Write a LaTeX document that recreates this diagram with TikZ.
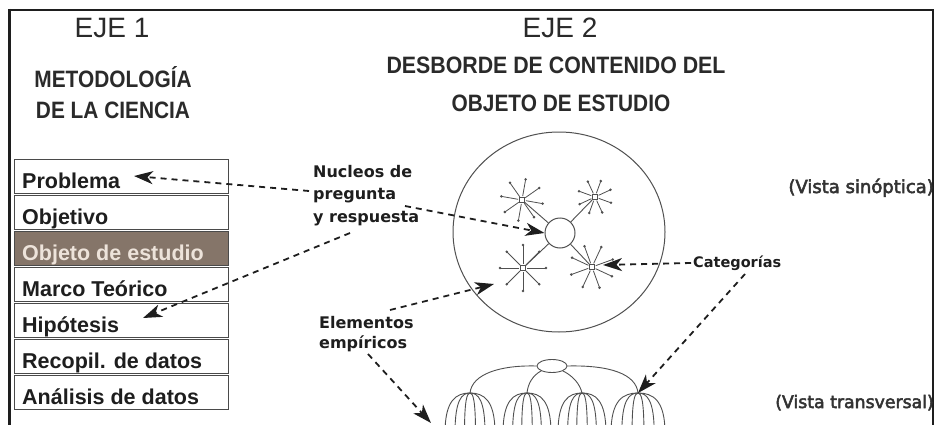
\documentclass[tikz,border=0pt]{standalone}
\usepackage{fontspec}
\setmainfont{DejaVu Sans}
\newfontfamily\headfont{Liberation Sans}
\newfontfamily\vistafont[FakeBold=3]{DejaVu Sans}
\usetikzlibrary{arrows.meta,shapes.geometric,calc}
\definecolor{ink}{HTML}{1E1E1E}
\definecolor{headgray}{HTML}{2A2A2A}
\definecolor{rowline}{HTML}{4A4A4A}
\definecolor{objfill}{HTML}{857569}
\definecolor{objtext}{HTML}{EDE3DA}
\definecolor{graytext}{HTML}{333333}
\definecolor{drawgray}{HTML}{505050}

\newcommand{\hubstar}[5]{% name, x, y, ray length, start angle
  \node[hub] (#1) at (#2,#3) {};
  \foreach \a in {0,45,...,315} {
    \draw[ray] (#1.center) ++(\a+#5:4) -- ++(\a+#5:#4-4) coordinate (rayend);
    \fill[drawgray] (rayend) circle (1.4pt);
  }
}
\newcommand{\dome}[2]{% name of top coordinate, spread
  \foreach \dx in {-1,-0.6,-0.22,0.22,0.6,1} {
    \draw[tree] (#1) .. controls ($(#1)+(\dx*#2*0.55,0)$) and ($(#1)+(\dx*#2,7)$) .. ($(#1)+(\dx*#2,40)$);
  }
}

\begin{document}
\begin{tikzpicture}[x=1pt,y=-1pt,
  rowbox/.style={draw=rowline, line width=1.3pt, minimum width=214pt, minimum height=34pt, anchor=north west, inner sep=0pt},
  rowtext/.style={anchor=base west, inner sep=0pt, font=\headfont\bfseries\fontsize{21.5}{24}\selectfont, text=ink},
  headb/.style={anchor=base, inner sep=0pt, font=\headfont\bfseries\fontsize{23.7}{26}\selectfont, text=headgray},
  headl/.style={anchor=base, inner sep=0pt, font=\headfont\fontsize{28}{30}\selectfont, text=headgray},
  lbl/.style={anchor=base west, inner sep=0pt, align=left, text=ink},
  vista/.style={anchor=base east, inner sep=0pt, text=graytext},
  dasharrow/.style={draw=ink, line width=1.8pt, dash pattern=on 6pt off 5pt, -{Stealth[length=19pt,width=13pt,inset=5.5pt]}},
  hub/.style={draw=drawgray, line width=0.8pt, minimum size=5pt, inner sep=0pt},
  ray/.style={draw=drawgray, line width=0.8pt},
  link/.style={draw=drawgray, line width=0.9pt},
  tree/.style={draw=drawgray, line width=0.9pt}
]
\useasboundingbox (0,0) rectangle (941,425);
\fill[white] (0,0) rectangle (941,425);
\begin{scope}
\clip (0,0) rectangle (941,425);

% frame
\draw[ink, line width=2pt] (9,10) -- (934,10);
\draw[ink, line width=3pt] (9,9) -- (9,426);
\draw[ink, line width=1.3pt] (933,10) -- (933,426);

% headings
\node[headl] (eje1) at (112,38) {EJE 1};
\node[headl] (eje2) at (560,38) {EJE 2};
\node[headb] (met) at (113,88) {\scalebox{0.88}[1]{METODOLOGÍA}};
\node[headb] (dlc) at (113,118) {\scalebox{0.88}[1]{DE LA CIENCIA}};
\node[headb] (des) at (556,74) {\scalebox{0.9}[1]{DESBORDE DE CONTENIDO DEL}};
\node[headb] (obe) at (561,112) {\scalebox{0.88}[1]{OBJETO DE ESTUDIO}};

% table
\node[rowbox] (r1) at (14,159) {};
\node[rowbox] (r2) at (14,195) {};
\node[rowbox, fill=objfill] (r3) at (14,231) {};
\node[rowbox] (r4) at (14,267) {};
\node[rowbox] (r5) at (14,303) {};
\node[rowbox] (r6) at (14,339) {};
\node[rowbox] (r7) at (14,375) {};
\node[rowtext] (t1) at (22,188) {Problema};
\node[rowtext] (t2) at (22,224) {Objetivo};
\node[rowtext, text=objtext] (t3) at (22,260) {Objeto de estudio};
\node[rowtext] (t4) at (22,296) {Marco Teórico};
\node[rowtext] (t5) at (22,332) {Hipótesis};
\node[rowtext] (t6) at (22,368) {Recopil. de datos};
\node[rowtext] (t7) at (22,404) {Análisis de datos};

% synoptic view
\node[draw=drawgray, line width=1pt, ellipse, minimum width=212pt, minimum height=200pt, inner sep=0pt] (big) at (559,232) {};
\node[draw=drawgray, line width=1pt, circle, minimum size=30pt, inner sep=0pt] (cc) at (560,233) {};
\hubstar{ul}{522}{200}{21}{10}
\hubstar{ur}{595}{197}{17}{20}
\hubstar{ll}{523}{268}{23}{0}
\hubstar{lr}{592}{267}{22}{25}
\draw[link] (cc) -- (ul);
\draw[link] (cc) -- (ur);
\draw[link] (cc) -- (ll);
\draw[link] (cc) -- (lr);

% transversal view
\node[draw=drawgray, line width=0.9pt, ellipse, minimum width=30pt, minimum height=13pt, inner sep=0pt] (tp) at (552,366) {};
\coordinate (d1) at (470,393);
\coordinate (d2) at (527,393);
\coordinate (d3) at (582,393);
\coordinate (d4) at (638,393);
\draw[tree] (tp.west) .. controls (500,365) and (472,374) .. (d1);
\draw[tree] (tp.east) .. controls (610,365) and (636,374) .. (d4);
\draw[tree] (tp.south west) .. controls (532,376) and (528,384) .. (d2);
\draw[tree] (tp.south east) .. controls (573,376) and (580,384) .. (d3);
\dome{d1}{25}
\dome{d2}{24}
\dome{d3}{24}
\dome{d4}{27}

% labels
\node[lbl, font=\bfseries\fontsize{16}{22.5}\selectfont] (nuc) at (313,222) {Nucleos de\\pregunta\\y respuesta};
\node[lbl, font=\bfseries\fontsize{16}{20}\selectfont] (ele) at (319,348) {Elementos\\empíricos};
\node[lbl, font=\bfseries\fontsize{14.5}{17}\selectfont] (cat) at (693,267) {Categorías};
\node[vista, font=\vistafont\fontsize{18}{20}\selectfont] (vs) at (934,193) {(Vista sinóptica)};
\node[vista, font=\vistafont\fontsize{17.3}{20}\selectfont] (vt) at (934,408) {(Vista transversal)};

% connector ends
\coordinate (a1s) at (309,191);
\coordinate (a1e) at (134,176);
\coordinate (a2s) at (405,206);
\coordinate (a3s) at (350,233);
\coordinate (a3e) at (143,318);
\coordinate (a4s) at (390,310);
\coordinate (a4e) at (494,284);
\coordinate (a5s) at (368,354);
\coordinate (a5e) at (431,423);
\coordinate (a6s) at (691,263);
\coordinate (a6e) at (603,265);
\coordinate (a7s) at (745,274);

\draw[dasharrow] (a1s) -- (a1e);
\draw[dasharrow] (a2s) -- (cc.west);
\draw[dasharrow] (a3s) -- (a3e);
\draw[dasharrow] (a4s) -- (a4e);
\draw[dasharrow] (a5s) -- (a5e);
\draw[dasharrow] (a6s) -- (a6e);
\draw[dasharrow] (a7s) -- (d4);
\end{scope}
\end{tikzpicture}
\end{document}
